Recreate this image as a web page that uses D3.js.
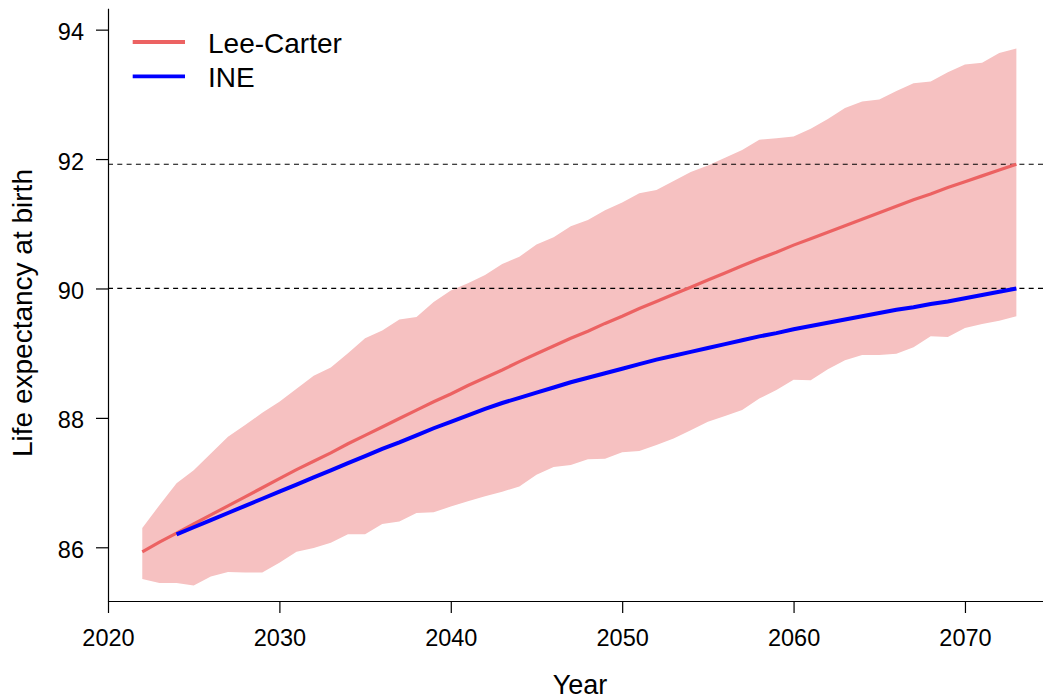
<!DOCTYPE html>
<html>
<head>
<meta charset="utf-8">
<script src="https://cdn.jsdelivr.net/npm/d3@7"></script>
<style>
  html, body { margin: 0; padding: 0; background: #fff; }
  svg { display: block; font-family: "Liberation Sans", Arial, sans-serif; }
</style>
</head>
<body>
<svg id="chart" width="1043" height="699"></svg>
<script>
const years = [2022,2023,2024,2025,2026,2027,2028,2029,2030,2031,2032,2033,2034,2035,2036,2037,2038,2039,2040,2041,2042,2043,2044,2045,2046,2047,2048,2049,2050,2051,2052,2053,2054,2055,2056,2057,2058,2059,2060,2061,2062,2063,2064,2065,2066,2067,2068,2069,2070,2071,2072,2073];
const leeCarter = [85.93,86.08,86.22,86.36,86.50,86.64,86.78,86.92,87.06,87.20,87.33,87.46,87.60,87.73,87.86,87.99,88.12,88.25,88.37,88.50,88.62,88.74,88.87,88.99,89.11,89.23,89.34,89.46,89.57,89.69,89.80,89.91,90.02,90.13,90.24,90.35,90.46,90.56,90.67,90.77,90.87,90.97,91.07,91.17,91.27,91.37,91.46,91.56,91.65,91.74,91.83,91.92];
const upper = [86.30,86.65,86.99,87.19,87.45,87.71,87.89,88.08,88.25,88.45,88.65,88.78,89.00,89.23,89.35,89.52,89.56,89.79,89.97,90.08,90.21,90.38,90.49,90.68,90.79,90.96,91.06,91.21,91.33,91.47,91.52,91.66,91.80,91.90,92.02,92.14,92.30,92.32,92.35,92.47,92.62,92.79,92.89,92.92,93.05,93.17,93.20,93.34,93.46,93.49,93.64,93.71];
const lower = [85.51,85.45,85.45,85.41,85.55,85.62,85.61,85.61,85.76,85.93,85.99,86.07,86.20,86.20,86.36,86.40,86.53,86.54,86.63,86.71,86.79,86.86,86.94,87.12,87.24,87.27,87.36,87.37,87.47,87.49,87.58,87.68,87.81,87.94,88.03,88.12,88.30,88.43,88.59,88.58,88.75,88.89,88.97,88.97,88.99,89.09,89.26,89.25,89.39,89.45,89.50,89.57];
const ineYears = [2024,2025,2026,2027,2028,2029,2030,2031,2032,2033,2034,2035,2036,2037,2038,2039,2040,2041,2042,2043,2044,2045,2046,2047,2048,2049,2050,2051,2052,2053,2054,2055,2056,2057,2058,2059,2060,2061,2062,2063,2064,2065,2066,2067,2068,2069,2070,2071,2072,2073];
const ine = [86.20,86.31,86.42,86.53,86.64,86.75,86.86,86.97,87.08,87.19,87.30,87.41,87.52,87.62,87.73,87.84,87.94,88.04,88.14,88.23,88.31,88.39,88.47,88.55,88.62,88.69,88.76,88.83,88.90,88.96,89.02,89.08,89.14,89.20,89.26,89.31,89.37,89.42,89.47,89.52,89.57,89.62,89.67,89.71,89.76,89.80,89.85,89.90,89.95,90.00];
const refLines = [91.92, 90.00];
const xTicks = [2020, 2030, 2040, 2050, 2060, 2070];
const yTicks = [86, 88, 90, 92, 94];
const seriesNames = ["Lee-Carter", "INE"];

const RED = "#EC6262", BAND = "#F6C1C1", BLUE = "#0000FF";
const svg = d3.select("#chart");
const x = d3.scaleLinear().domain([2020, 2074.6]).range([108, 1043.8]);
const y = d3.scaleLinear().domain([85.17, 94.33]).range([601, 8.3]);

// band
const bandData = years.map((yr, i) => ({yr, lo: lower[i], hi: upper[i]}));
svg.append("path").datum(bandData)
  .attr("fill", BAND)
  .attr("d", d3.area().x(d => x(d.yr)).y0(d => y(d.lo)).y1(d => y(d.hi)));

// reference dashed lines
svg.selectAll("line.ref").data(refLines).enter().append("line")
  .attr("x1", x.range()[0]).attr("x2", 1043)
  .attr("y1", d => y(d)).attr("y2", d => y(d))
  .attr("stroke", "#000").attr("stroke-width", 1.2)
  .attr("stroke-dasharray", "5,4.3");

// lines
const line = d3.line().x(d => x(d[0])).y(d => y(d[1]));
svg.append("path").datum(years.map((yr, i) => [yr, leeCarter[i]]))
  .attr("fill", "none").attr("stroke", RED).attr("stroke-width", 3.2)
  .attr("d", line);
svg.append("path").datum(ineYears.map((yr, i) => [yr, ine[i]]))
  .attr("fill", "none").attr("stroke", BLUE).attr("stroke-width", 4)
  .attr("d", line);

// axes
const xAxis = svg.append("g").attr("transform", "translate(0,601)")
  .call(d3.axisBottom(x).tickValues(xTicks).tickFormat(d3.format("d")).tickSize(12).tickSizeOuter(0));
xAxis.selectAll("text").attr("y", 28.5).attr("dy", "0.71em").attr("font-size", "23.5px").attr("fill", "#000")
  .attr("font-family", "'Liberation Sans', Arial, sans-serif");

const yAxis = svg.append("g").attr("transform", "translate(108,0)")
  .call(d3.axisLeft(y).tickValues(yTicks).tickSize(12).tickSizeOuter(0));
yAxis.selectAll("text").attr("x", -24).attr("dy", "0.43em").attr("font-size", "23.5px").attr("fill", "#000")
  .attr("font-family", "'Liberation Sans', Arial, sans-serif");

svg.selectAll(".domain, .tick line").attr("stroke", "#000").attr("stroke-width", 1.2);

// axis titles
svg.append("text").attr("x", 580).attr("y", 694).attr("text-anchor", "middle")
  .attr("font-size", "27px").attr("fill", "#000").text("Year");
svg.append("text").attr("transform", "translate(32,313) rotate(-90)").attr("text-anchor", "middle")
  .attr("font-size", "28px").attr("fill", "#000").text("Life expectancy at birth");

// legend
const legColors = [RED, BLUE];
const leg = svg.append("g");
seriesNames.forEach((name, i) => {
  const ly = 42 + i * 34.3;
  leg.append("line").attr("x1", 132.7).attr("x2", 185).attr("y1", ly).attr("y2", ly)
    .attr("stroke", legColors[i]).attr("stroke-width", 3.8);
  leg.append("text").attr("x", 208).attr("y", ly + 10.5).attr("font-size", "28px").attr("fill", "#000").text(name);
});
</script>
</body>
</html>
